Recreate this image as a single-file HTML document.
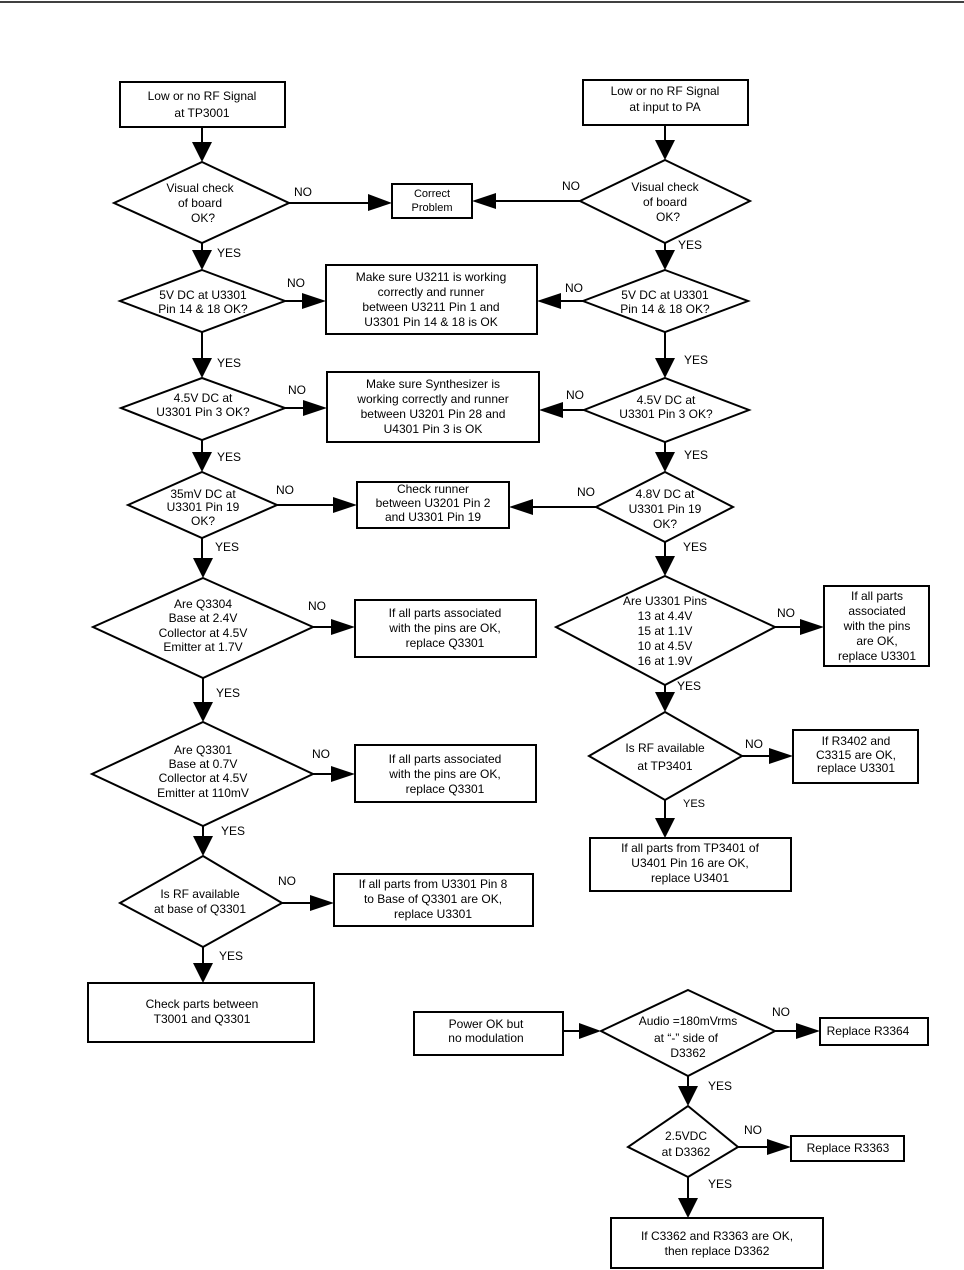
<!DOCTYPE html>
<html><head><meta charset="utf-8"><style>
html,body{margin:0;padding:0;background:#fff}
svg{display:block}
text{font-family:"Liberation Sans",Arial,sans-serif;font-size:12px;fill:#000}
.c{text-anchor:middle}
</style></head><body>
<svg width="964" height="1270" viewBox="0 0 964 1270" xmlns="http://www.w3.org/2000/svg">
<g stroke="#000" stroke-width="2" fill="none">
<line x1="0" y1="2" x2="964" y2="2" stroke-width="1.5"/>
<!-- LEFT -->
<rect x="120" y="82" width="165" height="45"/>
<polygon points="202,162 289,203 202,243 114,203"/>
<rect x="392" y="184" width="80" height="34"/>
<polygon points="202,270 285,301 202,332 120,301"/>
<rect x="326" y="265" width="211" height="69"/>
<polygon points="202,378 285,408 202,440 121,408"/>
<rect x="327" y="372" width="212" height="70"/>
<polygon points="202,472 277,505 202,538 128,505"/>
<rect x="357" y="482" width="152" height="46"/>
<polygon points="203,578 313,627 203,678 93,627"/>
<rect x="355" y="600" width="181" height="57"/>
<polygon points="203,722 313,774 203,826 92,774"/>
<rect x="355" y="745" width="181" height="57"/>
<polygon points="203,856 282,903 203,947 120,903"/>
<rect x="334" y="874" width="199" height="52"/>
<rect x="88" y="983" width="226" height="59"/>
<!-- RIGHT -->
<rect x="583" y="80" width="165" height="45"/>
<polygon points="665,160 750,201 665,243 580,201"/>
<polygon points="665,270 748,301 665,332 583,301"/>
<polygon points="665,378 749,410 665,442 584,410"/>
<polygon points="665,472 733,507 665,542 596,507"/>
<polygon points="665,576 775,627 665,685 556,627"/>
<rect x="824" y="586" width="105" height="80"/>
<polygon points="665,712 742,756 665,800 589,756"/>
<rect x="793" y="730" width="125" height="53"/>
<rect x="590" y="838" width="201" height="53"/>
<!-- BOTTOM -->
<rect x="414" y="1012" width="149" height="43"/>
<polygon points="688,990 775,1031 688,1076 601,1031"/>
<rect x="820" y="1018" width="108" height="27"/>
<polygon points="688,1106 738,1147 688,1177 628,1147"/>
<rect x="791" y="1136" width="113" height="25"/>
<rect x="611" y="1218" width="212" height="50"/>
<!-- connector lines -->
<path d="M202 127V142 M202 243V250 M202 332V358 M202 440V452 M202 538V558 M203 678V702 M203 826V836 M203 947V963
M289 203H370 M285 301H304 M285 408H305 M277 505H335 M313 627H333 M313 774H333 M282 903H312
M665 125V140 M665 243V250 M665 332V358 M665 442V452 M665 542V556 M665 685V692 M665 800V818
M580 201H494 M583 301H559 M584 410H561 M596 507H531 M775 627H802 M742 756H771
M563 1031H581 M688 1076V1086 M775 1031H798 M738 1147H769 M688 1177V1198"/>
</g>
<g fill="#000">
<polygon points="192,142 212,142 202,162"/><polygon points="192,250 212,250 202,270"/><polygon points="192,358 212,358 202,378"/><polygon points="192,452 212,452 202,472"/><polygon points="193,558 213,558 203,578"/><polygon points="193,702 213,702 203,722"/><polygon points="193,836 213,836 203,856"/><polygon points="193,963 213,963 203,983"/>
<polygon points="368,194 368,211 392,203"/><polygon points="302,293 302,309 326,301"/><polygon points="303,400 303,416 327,408"/><polygon points="333,497 333,513 357,505"/><polygon points="331,619 331,635 355,627"/><polygon points="331,766 331,782 355,774"/><polygon points="310,895 310,911 334,903"/>
<polygon points="655,140 675,140 665,160"/><polygon points="655,250 675,250 665,270"/><polygon points="655,358 675,358 665,378"/><polygon points="655,452 675,452 665,472"/><polygon points="655,556 675,556 665,576"/><polygon points="655,692 675,692 665,712"/><polygon points="655,818 675,818 665,838"/>
<polygon points="496,193 496,209 472,201"/><polygon points="561,293 561,309 537,301"/><polygon points="563,402 563,418 539,410"/><polygon points="533,499 533,515 509,507"/><polygon points="800,619 800,635 824,627"/><polygon points="769,748 769,764 793,756"/>
<polygon points="579,1023 579,1039 601,1031"/><polygon points="796,1023 796,1039 820,1031"/><polygon points="767,1139 767,1155 791,1147"/><polygon points="678,1086 698,1086 688,1106"/><polygon points="678,1198 698,1198 688,1218"/>
</g>
<g>
<text class="c" x="202" y="100">Low or no RF Signal</text><text class="c" x="202" y="117">at TP3001</text>
<text class="c" x="200" y="192">Visual check</text><text class="c" x="200" y="207">of board</text><text class="c" x="203" y="222">OK?</text>
<text x="294" y="196">NO</text>
<text class="c" x="432" y="197" style="font-size:11px">Correct</text><text class="c" x="432" y="211" style="font-size:11px">Problem</text>
<text x="217" y="257">YES</text>
<text class="c" x="203" y="299">5V DC at U3301</text><text class="c" x="203" y="313">Pin 14 &amp; 18 OK?</text>
<text x="287" y="287">NO</text>
<text class="c" x="431" y="281">Make sure U3211 is working</text><text class="c" x="431" y="296">correctly and runner</text><text class="c" x="431" y="311">between U3211 Pin 1 and</text><text class="c" x="431" y="326">U3301 Pin 14 &amp; 18 is OK</text>
<text x="217" y="367">YES</text>
<text class="c" x="203" y="402">4.5V DC at</text><text class="c" x="203" y="416">U3301 Pin 3 OK?</text>
<text x="288" y="394">NO</text>
<text class="c" x="433" y="388">Make sure Synthesizer is</text><text class="c" x="433" y="403">working correctly and runner</text><text class="c" x="433" y="418">between U3201 Pin 28 and</text><text class="c" x="433" y="433">U4301 Pin 3 is OK</text>
<text x="217" y="461">YES</text>
<text class="c" x="203" y="498">35mV DC at</text><text class="c" x="203" y="511">U3301 Pin 19</text><text class="c" x="203" y="525">OK?</text>
<text x="276" y="494">NO</text>
<text class="c" x="433" y="493">Check runner</text><text class="c" x="433" y="507">between U3201 Pin 2</text><text class="c" x="433" y="521">and U3301 Pin 19</text>
<text x="215" y="551">YES</text>
<text class="c" x="203" y="608">Are Q3304</text><text class="c" x="203" y="622">Base at 2.4V</text><text class="c" x="203" y="637">Collector at 4.5V</text><text class="c" x="203" y="651">Emitter at 1.7V</text>
<text x="308" y="610">NO</text>
<text class="c" x="445" y="617">If all parts associated</text><text class="c" x="445" y="632">with the pins are OK,</text><text class="c" x="445" y="647">replace Q3301</text>
<text x="216" y="697">YES</text>
<text class="c" x="203" y="754">Are Q3301</text><text class="c" x="203" y="768">Base at 0.7V</text><text class="c" x="203" y="782">Collector at 4.5V</text><text class="c" x="203" y="797">Emitter at 110mV</text>
<text x="312" y="758">NO</text>
<text class="c" x="445" y="763">If all parts associated</text><text class="c" x="445" y="778">with the pins are OK,</text><text class="c" x="445" y="793">replace Q3301</text>
<text x="221" y="835">YES</text>
<text class="c" x="200" y="898">Is RF available</text><text class="c" x="200" y="913">at base of Q3301</text>
<text x="278" y="885">NO</text>
<text class="c" x="433" y="888">If all parts from U3301 Pin 8</text><text class="c" x="433" y="903">to Base of Q3301 are OK,</text><text class="c" x="433" y="918">replace U3301</text>
<text x="219" y="960">YES</text>
<text class="c" x="202" y="1008">Check parts between</text><text class="c" x="202" y="1023">T3001 and Q3301</text>
<text class="c" x="665" y="95">Low or no RF Signal</text><text class="c" x="665" y="111">at input to PA</text>
<text x="562" y="190">NO</text>
<text class="c" x="665" y="191">Visual check</text><text class="c" x="665" y="206">of board</text><text class="c" x="668" y="221">OK?</text>
<text x="678" y="249">YES</text>
<text x="565" y="292">NO</text>
<text class="c" x="665" y="299">5V DC at U3301</text><text class="c" x="665" y="313">Pin 14 &amp; 18 OK?</text>
<text x="684" y="364">YES</text>
<text x="566" y="399">NO</text>
<text class="c" x="666" y="404">4.5V DC at</text><text class="c" x="666" y="418">U3301 Pin 3 OK?</text>
<text x="684" y="459">YES</text>
<text x="577" y="496">NO</text>
<text class="c" x="665" y="498">4.8V DC at</text><text class="c" x="665" y="513">U3301 Pin 19</text><text class="c" x="665" y="528">OK?</text>
<text x="683" y="551">YES</text>
<text class="c" x="665" y="605">Are U3301 Pins</text><text class="c" x="665" y="620">13 at 4.4V</text><text class="c" x="665" y="635">15 at 1.1V</text><text class="c" x="665" y="650">10 at 4.5V</text><text class="c" x="665" y="665">16 at 1.9V</text>
<text x="777" y="617">NO</text>
<text class="c" x="877" y="600">If all parts</text><text class="c" x="877" y="615">associated</text><text class="c" x="877" y="630">with the pins</text><text class="c" x="877" y="645">are OK,</text><text class="c" x="877" y="660">replace U3301</text>
<text x="677" y="690">YES</text>
<text class="c" x="665" y="752">Is RF available</text><text class="c" x="665" y="770">at TP3401</text>
<text x="745" y="748">NO</text>
<text class="c" x="856" y="745">If R3402 and</text><text class="c" x="856" y="759">C3315 are OK,</text><text class="c" x="856" y="772">replace U3301</text>
<text x="683" y="807" style="font-size:11px">YES</text>
<text class="c" x="690" y="852">If all parts from TP3401 of</text><text class="c" x="690" y="867">U3401 Pin 16 are OK,</text><text class="c" x="690" y="882">replace U3401</text>
<text class="c" x="486" y="1028">Power OK but</text><text class="c" x="486" y="1042">no modulation</text>
<text class="c" x="688" y="1025">Audio =180mVrms</text><text class="c" x="686" y="1042">at “-” side of</text><text class="c" x="688" y="1057">D3362</text>
<text x="772" y="1016">NO</text>
<text class="c" x="868" y="1035">Replace R3364</text>
<text x="708" y="1090">YES</text>
<text class="c" x="686" y="1140">2.5VDC</text><text class="c" x="686" y="1156">at D3362</text>
<text x="744" y="1134">NO</text>
<text class="c" x="848" y="1152">Replace R3363</text>
<text x="708" y="1188">YES</text>
<text class="c" x="717" y="1240">If C3362 and R3363 are OK,</text><text class="c" x="717" y="1255">then replace D3362</text>
</g>
</svg>
</body></html>
